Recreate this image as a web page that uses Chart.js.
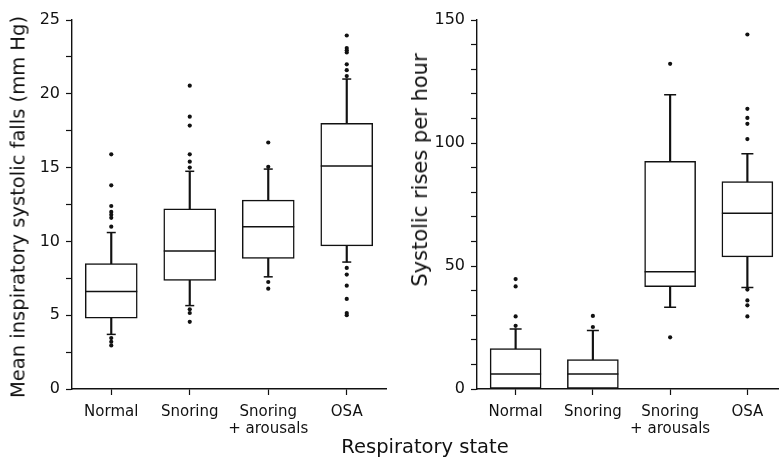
<!DOCTYPE html>
<html>
<head>
<meta charset="utf-8">
<script src="https://cdn.jsdelivr.net/npm/chart.js@4.4.1/dist/chart.umd.min.js"></script>
<style>
  html, body { margin: 0; padding: 0; background: #fff; }
  body { width: 779px; height: 468px; overflow: hidden; position: relative; font-family: "DejaVu Sans", sans-serif; color: #111; }
  canvas { position: absolute; top: 0; }
  #fallsChart { left: 0; }
  #risesChart { left: 398px; }
  .title { position: absolute; white-space: nowrap; line-height: normal; }
  .ytitle { transform: translate(-50%, -50%) rotate(-90deg); }
  #fallsTitle { left: 17.5px; top: 207px; font-size: 19.5px; }
  #risesTitle { left: 419.5px; top: 170px; font-size: 21px; }
  #xTitle { left: 425px; top: 446px; font-size: 19.5px; transform: translate(-50%, -50%); }
</style>
</head>
<body>
<canvas id="fallsChart" width="392" height="468"></canvas>
<canvas id="risesChart" width="398" height="468"></canvas>
<div class="title ytitle" id="fallsTitle">Mean inspiratory systolic falls (mm Hg)</div>
<div class="title ytitle" id="risesTitle">Systolic rises per hour</div>
<div class="title" id="xTitle">Respiratory state</div>
<script>
const categories = ["Normal", "Snoring", ["Snoring", "+ arousals"], "OSA"];

// mean inspiratory systolic falls (mm Hg)
const fallsLow = [3.7, 5.65, 7.6, 8.6];
const fallsQ1 = [4.8, 7.35, 8.85, 9.7];
const fallsMedian = [6.6, 9.35, 11.0, 15.1];
const fallsQ3 = [8.5, 12.2, 12.8, 18.0];
const fallsHigh = [10.6, 14.75, 14.9, 21.0];
const fallsOutliers = [
  [15.9, 13.8, 12.4, 12.0, 11.8, 11.6, 11.0, 3.45, 3.2, 2.95],
  [20.55, 18.45, 17.85, 15.9, 15.4, 15.0, 5.4, 5.15, 4.55],
  [16.7, 15.05, 7.25, 6.8],
  [23.95, 23.1, 22.95, 22.8, 22.0, 21.6, 21.2, 8.2, 7.75, 7.0, 6.1, 5.15, 5.0]
];

// systolic rises per hour
const risesLow = [0, 0, 33.2, 41.3];
const risesQ1 = [0, 0, 41.6, 53.7];
const risesMedian = [6.1, 6.1, 47.7, 71.4];
const risesQ3 = [16.4, 12.0, 92.5, 84.3];
const risesHigh = [24.4, 23.8, 119.6, 95.6];
const risesOutliers = [
  [44.7, 41.7, 29.5, 25.7],
  [29.7, 25.2],
  [132.2, 21.0],
  [144.1, 113.9, 110.2, 107.8, 101.6, 40.4, 36.0, 34.0, 29.5]
];

const ink = "#111";
Chart.defaults.font.family = "'DejaVu Sans', sans-serif";
Chart.defaults.color = ink;

function boxChart(canvasId, s) {
  // point x values use the label itself so the category scale finds them
  const boxes = s.q1.map((v, i) => [v, s.q3[i]]);
  const whiskers = s.low.map((v, i) => [v, s.high[i]]);
  const medians = s.median.map((v, i) => ({ x: categories[i], y: v }));
  const caps = [];
  s.low.forEach((v, i) => { if (v < s.q1[i]) caps.push({ x: categories[i], y: v }); });
  s.high.forEach((v, i) => caps.push({ x: categories[i], y: v }));
  const dots = [];
  s.outliers.forEach((vals, i) => vals.forEach(v => dots.push({ x: categories[i], y: v })));

  return new Chart(document.getElementById(canvasId), {
    type: "bar",
    data: {
      labels: categories,
      datasets: [
        { type: "line", data: dots, showLine: false, pointStyle: "circle", pointRadius: 2.1,
          pointBackgroundColor: ink, pointBorderWidth: 0, order: 0 },
        { type: "line", data: medians, showLine: false, pointStyle: "line", pointRadius: s.boxWidth / 2,
          pointBorderColor: ink, pointBorderWidth: 1.5, order: 1 },
        { type: "bar", data: boxes, backgroundColor: "#fff", borderColor: ink, borderWidth: 1.5,
          borderSkipped: false, barThickness: s.boxWidth, grouped: false, order: 2 },
        { type: "line", data: caps, showLine: false, pointStyle: "line", pointRadius: s.capHalf,
          pointBorderColor: ink, pointBorderWidth: 1.5, order: 3 },
        { type: "bar", data: whiskers, backgroundColor: ink, borderWidth: 0,
          barThickness: 1.5, grouped: false, order: 4 }
      ]
    },
    options: {
      responsive: false,
      animation: false,
      events: [],
      layout: { autoPadding: false, padding: { top: 20, right: s.padRight, left: 0, bottom: 0 } },
      plugins: { legend: { display: false }, tooltip: { enabled: false } },
      scales: {
        x: {
          offset: true,
          grid: { drawOnChartArea: false, offset: false, tickLength: 6, color: ink, tickWidth: 1.2 },
          border: { color: ink, width: 1.4 },
          ticks: { color: ink, font: { size: 15, lineHeight: 1.1 }, padding: 9, maxRotation: 0, autoSkip: false },
          afterFit: sc => { sc.height = 79; }
        },
        y: {
          min: 0,
          max: s.max,
          grid: { drawOnChartArea: false, tickLength: 6, color: ink, tickWidth: 1.2 },
          border: { color: ink, width: 1.4 },
          ticks: {
            stepSize: s.step,
            autoSkip: false,
            color: ink,
            padding: 6,
            font: { size: 16 },
            callback: v => (Math.abs(v % s.labelEvery) < 1e-6 ? v : "")
          },
          afterFit: sc => { sc.width = s.axisWidth; }
        }
      }
    }
  });
}

boxChart("fallsChart", {
  low: fallsLow, q1: fallsQ1, median: fallsMedian, q3: fallsQ3, high: fallsHigh, outliers: fallsOutliers,
  max: 25, step: 2.5, labelEvery: 5, axisWidth: 72, padRight: 6, boxWidth: 52, capHalf: 4.5
});

boxChart("risesChart", {
  low: risesLow, q1: risesQ1, median: risesMedian, q3: risesQ3, high: risesHigh, outliers: risesOutliers,
  max: 150, step: 10, labelEvery: 50, axisWidth: 79, padRight: 10, boxWidth: 51, capHalf: 6
});
</script>
</body>
</html>
